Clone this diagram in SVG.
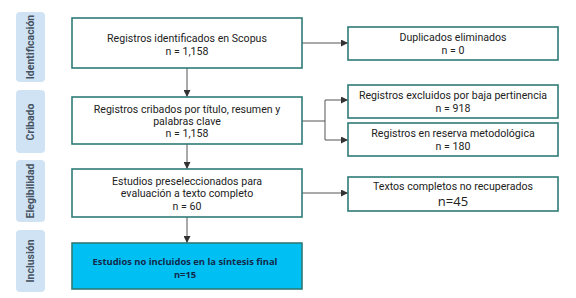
<svg xmlns="http://www.w3.org/2000/svg" width="576" height="298" viewBox="0 0 576 298">
<defs>
<marker id="ah" viewBox="0 0 10 10" refX="10" refY="5" markerWidth="7" markerHeight="7" markerUnits="userSpaceOnUse" orient="auto"><path d="M0,0 L10,5 L0,10 z" fill="#333"/></marker>
<style>
.phase{fill:#cfe3f5}
.ptxt{font-family:Roboto,"Liberation Sans",sans-serif;font-weight:bold;font-size:10.5px;fill:#46525f;text-anchor:middle}
.box{fill:#fff;stroke:#2e7b78;stroke-width:1.6}
.hi{fill:#00bff3;stroke:#2e7b78;stroke-width:1.6}
.t{font-family:Roboto,"Liberation Sans",sans-serif;font-size:10.6px;fill:#222;text-anchor:middle}
.tb{font-family:"Open Sans","Liberation Sans",sans-serif;font-weight:bold;font-size:9.4px;fill:#13294b;text-anchor:middle}
.c{fill:none;stroke:#555;stroke-width:1}
</style>
</defs>
<rect width="576" height="298" fill="#fff"/>
<g id="phase-identificacion"><rect class="phase" x="16" y="12" width="29" height="70" rx="4"/><text class="ptxt" transform="translate(34,47) rotate(-90)">Identificación</text></g>
<g id="phase-cribado"><rect class="phase" x="16" y="90" width="29" height="63" rx="4"/><text class="ptxt" transform="translate(34,122) rotate(-90)">Cribado</text></g>
<g id="phase-elegibilidad"><rect class="phase" x="16" y="160" width="29" height="62" rx="4"/><text class="ptxt" transform="translate(34,191) rotate(-90)">Elegibilidad</text></g>
<g id="phase-inclusion"><rect class="phase" x="16" y="230" width="29" height="62" rx="4"/><text class="ptxt" transform="translate(34,261) rotate(-90)">Inclusión</text></g>
<g id="connectors">
<path class="c" d="M187,68 V97" marker-end="url(#ah)"/>
<path class="c" d="M187,144 V169" marker-end="url(#ah)"/>
<path class="c" d="M187,217 V243" marker-end="url(#ah)"/>
<path class="c" d="M302,43 H348" marker-end="url(#ah)"/>
<path class="c" d="M302,121 H325"/>
<path class="c" d="M325,100 V140"/>
<path class="c" d="M325,100 H348" marker-end="url(#ah)"/>
<path class="c" d="M325,140 H348" marker-end="url(#ah)"/>
<path class="c" d="M302,193 H348" marker-end="url(#ah)"/>
</g>
<g id="n-identificados"><rect class="box" x="72" y="18" width="230" height="50"/><text class="t" x="187" y="42">Registros identificados en Scopus</text><text class="t" x="187" y="54.5">n = 1,158</text></g>
<g id="n-cribados"><rect class="box" x="72" y="97" width="230" height="47"/><text class="t" x="187" y="112.5">Registros cribados por título, resumen y</text><text class="t" x="187" y="124.8">palabras clave</text><text class="t" x="187" y="137.1">n = 1,158</text></g>
<g id="n-preseleccionados"><rect class="box" x="72" y="169" width="230" height="48"/><text class="t" x="187" y="185">Estudios preseleccionados para</text><text class="t" x="187" y="197.3">evaluación a texto completo</text><text class="t" x="187" y="209.6">n = 60</text></g>
<g id="n-final"><rect class="hi" x="72" y="243" width="230" height="46"/><text class="tb" x="185" y="265">Estudios no incluidos en la síntesis final</text><text class="tb" x="185" y="278">n=15</text></g>
<g id="n-duplicados"><rect class="box" x="348" y="27" width="210" height="33"/><text class="t" x="453" y="41">Duplicados eliminados</text><text class="t" x="453" y="53.5">n = 0</text></g>
<g id="n-excluidos"><rect class="box" x="348" y="85" width="210" height="33"/><text class="t" x="453" y="99">Registros excluidos por baja pertinencia</text><text class="t" x="453" y="111.5">n = 918</text></g>
<g id="n-reserva"><rect class="box" x="348" y="123" width="210" height="33"/><text class="t" x="453" y="137">Registros en reserva metodológica</text><text class="t" x="453" y="149.5">n = 180</text></g>
<g id="n-norecuperados"><rect class="box" x="348" y="177" width="210" height="34"/><text class="t" x="453" y="190">Textos completos no recuperados</text><text class="t" x="453" y="205.5" style="font-family:'Open Sans','Liberation Sans',sans-serif;font-size:13px">n=45</text></g>
</svg>
